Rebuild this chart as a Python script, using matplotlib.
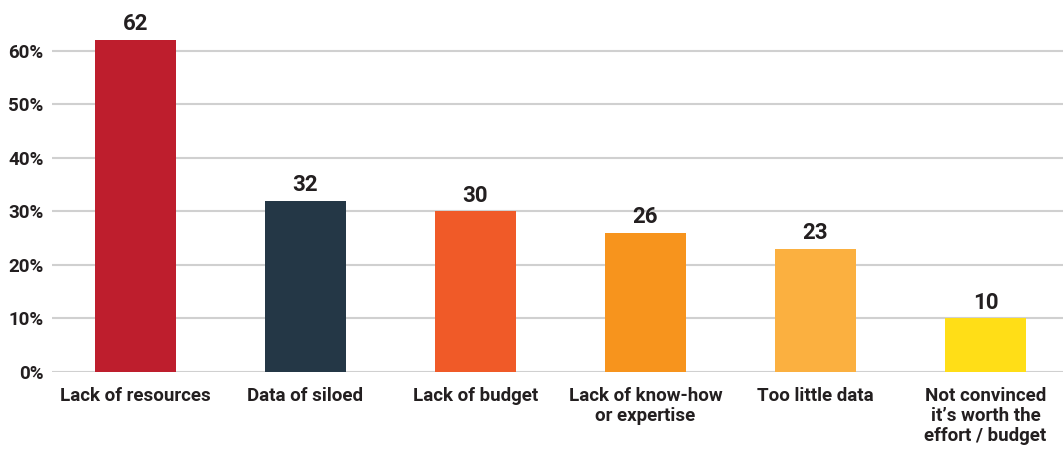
import matplotlib
matplotlib.use("Agg")
import matplotlib.pyplot as plt
import numpy as np

categories = ["Lack of resources", "Data of siloed", "Lack of budget",
              "Lack of know-how\nor expertise", "Too little data",
              "Not convinced\nit\u2019s worth the\neffort / budget"]
values = [62, 32, 30, 26, 23, 10]
colors = ["#BE1E2D", "#243746", "#F05A28", "#F7941D", "#FBB040", "#FFDE17"]
yticks = [0, 10, 20, 30, 40, 50, 60]
ytick_labels = ["0%", "10%", "20%", "30%", "40%", "50%", "60%"]

plt.rcParams['font.family'] = ['Roboto', 'DejaVu Sans']
text_color = "#231F20"

fig = plt.figure(figsize=(10.63, 4.5), dpi=100)
ax = fig.add_axes([0.0489, 0.1733, 0.9511, 0.8267])

x = np.arange(len(categories))
ax.bar(x, values, width=0.476, color=colors, zorder=3)

for xi, v in zip(x, values):
    ax.text(xi, v + 0.9, str(v), ha="center", va="bottom",
            fontsize=16, fontweight="bold", color=text_color)

ax.set_xlim(-0.491, 5.456)
ax.set_ylim(0, 69.5)
ax.set_yticks(yticks)
ax.set_yticklabels(ytick_labels, fontsize=13.5, fontweight="bold", color=text_color)
ax.set_xticks(x)
ax.set_xticklabels(categories, fontsize=13.5, fontweight="bold", color=text_color,
                   linespacing=1.15, va="top")
ax.tick_params(axis="both", length=0)
ax.tick_params(axis="y", pad=6)
ax.tick_params(axis="x", pad=10.5)

ax.grid(axis="y", color="#D0D0D0", linewidth=1.5, zorder=0)
for s in ax.spines.values():
    s.set_visible(False)

fig.savefig("out.png", dpi=100)
